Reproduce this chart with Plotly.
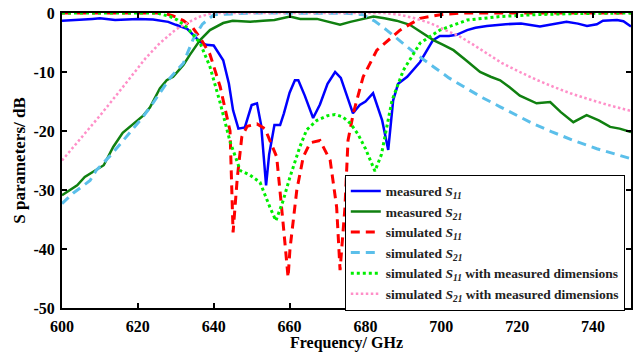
import plotly.graph_objects as go

# ---- data ----
f_meas_s11 = [600, 604, 608, 610, 614, 617, 620, 624, 628, 630, 633, 636.4, 638, 640, 641.6, 642.5, 644, 645.1,
              646.5, 648.2, 650, 651.4, 652.5, 653.3, 653.8, 654.6, 656, 657.5, 658.5, 660, 661.4, 662.3, 664,
              666.2, 668, 670, 672, 673.5, 675, 676.7, 678.5, 680, 682, 684.4, 686, 687.3, 688.6, 691, 694.4,
              697.8, 699.6, 702, 704, 706.8, 709, 712, 717, 721, 726, 730, 733, 736, 738.4, 741, 742.6, 746.3,
              748, 750]
meas_s11 = [-1.3, -1.2, -1.0, -0.9, -1.2, -1.1, -1.0, -1.1, -1.5, -2.0, -2.7, -4.9, -5.4, -5.5, -7.0, -8.0, -12.0,
            -16.5, -19.6, -19.4, -15.6, -15.3, -19.0, -25.0, -29.2, -24.0, -19.0, -19.0, -17.0, -13.5, -11.4,
            -11.4, -14.0, -17.8, -15.5, -12.0, -10.0, -11.0, -14.0, -17.0, -15.6, -15.0, -13.6, -18.2, -23.2,
            -14.8, -12.0, -10.8, -8.3, -4.6, -3.9, -3.9, -3.7, -2.9, -2.5, -2.2, -1.9, -1.8, -2.3, -1.8, -1.5,
            -1.8, -2.2, -1.9, -1.3, -1.2, -1.4, -2.3]

f_meas_s21 = [600, 604, 606, 607.4, 611, 613.5, 616, 621.4, 623.2, 625.8, 627.6, 629.3, 632, 633.7, 636.4, 639,
              642.5, 645, 649.6, 653, 656, 660.1, 662.8, 667.2, 670, 673.3, 676, 679.4, 682.1, 685, 688.2, 691.7,
              694, 697.9, 700.5, 703.2, 706.5, 710.2, 713, 715.5, 718, 720.7, 725.1, 728.7, 731.5, 734.8, 738.3,
              741.5, 744.5, 747, 750]
meas_s21 = [-30.9, -29.2, -27.8, -27.2, -25.8, -22.7, -20.3, -17.4, -16.0, -12.8, -11.4, -10.8, -8.8, -7.1, -4.6,
            -2.9, -1.7, -1.3, -1.5, -1.3, -1.2, -0.6, -1.0, -1.0, -1.4, -2.0, -1.5, -1.0, -0.6, -0.9, -1.3, -2.0,
            -3.0, -4.6, -5.4, -6.3, -8.0, -10.0, -10.8, -11.4, -12.6, -14.0, -15.3, -15.1, -16.8, -18.5, -17.3,
            -18.2, -19.3, -19.6, -20.2]

f_sim_s11 = [600, 610, 620, 626.7, 629.3, 632, 634.5, 636.5, 639, 641.7, 644.3, 645.1, 646.2, 647.4, 648.8, 650.4,
             651.4, 653.5, 655.6, 656.6, 658.3, 659.6, 660.1, 661.9, 663.6, 665.4, 668, 670.7, 672.4, 673.3,
             674.6, 675.4, 676.8, 679.4, 683, 689.1, 694.4, 699.7, 705, 720, 750]
sim_s11 = [0.0, 0.0, 0.0, 0.0, -0.5, -1.3, -2.5, -4.3, -7.0, -12.5, -20.0, -37.2, -28.0, -21.0, -19.2, -18.9,
           -18.8, -19.6, -23.0, -24.4, -35.7, -44.8, -40.0, -30.0, -24.4, -22.0, -21.6, -25.0, -32.9, -43.6,
           -32.9, -21.6, -17.0, -10.8, -6.3, -2.9, -0.9, -0.3, 0.0, 0.0, 0.0]

f_sim_s21 = [600, 603, 607.4, 609, 613, 617, 620.6, 623, 625.8, 628.5, 632, 634.6, 637, 640, 650, 665, 675, 679.4,
             682.5, 685.6, 688, 690.9, 694, 697.9, 702, 706.7, 711, 715.5, 720, 724.3, 729, 734.8, 741, 748, 750]
sim_s21 = [-32.3, -30.5, -28.4, -26.7, -24.0, -21.0, -18.2, -16.2, -13.6, -11.0, -8.5, -4.4, -1.9, -0.3, 0.0, 0.0,
           -0.05, -0.3, -1.4, -2.9, -4.2, -5.7, -7.3, -9.1, -11.0, -12.8, -14.4, -15.9, -17.4, -18.8, -20.1,
           -21.6, -23.0, -24.4, -24.7]

f_sim_s11_md = [600, 615, 625, 628.5, 630.5, 633, 636.4, 639, 641.6, 644.3, 647, 649.6, 652.2, 654.8, 656.4, 658.3,
                660.1, 662.7, 664.5, 667.2, 670, 672, 674, 676, 678, 680, 682.5, 684.2, 685.5, 687, 690, 694.4,
                699.6, 706.8, 715.5, 724, 735, 750]
sim_s11_md = [0.0, 0.0, 0.0, -0.6, -1.2, -2.5, -5.1, -9.1, -15.0, -21.8, -26.7, -27.5, -28.7, -32.9, -35.2, -31.8,
              -27.8, -22.7, -19.8, -18.2, -17.4, -17.2, -17.6, -18.7, -20.5, -23.0, -26.8, -24.0, -20.0, -14.8,
              -9.7, -5.1, -2.9, -1.2, -0.6, -0.3, -0.1, 0.0]

f_sim_s21_md = [600, 605, 610, 615, 618.8, 622, 625.8, 630, 633, 636, 638, 640, 660, 685, 689.1, 693, 697, 701,
                704.9, 708.5, 712, 716, 720.7, 725, 729.5, 734, 738.3, 744, 750]
sim_s21_md = [-25.0, -21.2, -17.4, -13.4, -10.2, -7.7, -5.1, -2.8, -1.7, -0.7, -0.3, 0.0, 0.0, 0.0, -0.3, -0.9,
              -1.7, -2.8, -4.0, -5.4, -6.9, -8.5, -10.0, -11.3, -12.5, -13.6, -14.5, -15.6, -16.6]

x_ticks = [600, 620, 640, 660, 680, 700, 720, 740]
y_ticks = [0, -10, -20, -30, -40, -50]

# ---- figure ----
FONT = "Liberation Serif"
S11 = "<i>S</i><sub><i>11</i></sub>"
S21 = "<i>S</i><sub><i>21</i></sub>"

fig = go.Figure()
fig.add_trace(go.Scatter(x=f_meas_s11, y=meas_s11, mode="lines", name="measured " + S11,
                         line=dict(color="#0000ff", width=2.5)))
fig.add_trace(go.Scatter(x=f_meas_s21, y=meas_s21, mode="lines", name="measured " + S21,
                         line=dict(color="#108010", width=2.5)))
fig.add_trace(go.Scatter(x=f_sim_s11, y=sim_s11, mode="lines", name="simulated " + S11,
                         line=dict(color="#ff0000", width=3, dash="9px,6px")))
fig.add_trace(go.Scatter(x=f_sim_s21, y=sim_s21, mode="lines", name="simulated " + S21,
                         line=dict(color="#5bbfea", width=3, dash="9px,6px")))
fig.add_trace(go.Scatter(x=f_sim_s11_md, y=sim_s11_md, mode="lines",
                         name="simulated " + S11 + " with measured dimensions",
                         line=dict(color="#00ee00", width=3, dash="3px,3px")))
fig.add_trace(go.Scatter(x=f_sim_s21_md, y=sim_s21_md, mode="lines",
                         name="simulated " + S21 + " with measured dimensions",
                         line=dict(color="#ff8fc8", width=2.5, dash="2.5px,2.5px")))

axis_common = dict(showline=True, linecolor="black", linewidth=2, mirror="ticks", ticks="inside",
                   ticklen=5, tickwidth=1.5, tickcolor="black", showgrid=False, zeroline=False,
                   automargin=False,
                   tickfont=dict(family=FONT, size=16, color="black", weight="bold"))

fig.update_xaxes(range=[600, 750], tickvals=x_ticks, ticktext=[str(v) for v in x_ticks],
                 title=dict(text="Frequency/ GHz", font=dict(family=FONT, size=16, color="black", weight="bold"),
                            standoff=4),
                 ticklabelstandoff=3, **axis_common)
fig.update_yaxes(range=[-50, 0], tickvals=y_ticks, ticktext=[str(v) for v in y_ticks],
                 title=dict(text="S parameters/ dB", font=dict(family=FONT, size=17, color="black", weight="bold"),
                            standoff=4),
                 ticklabelstandoff=2, **axis_common)

fig.update_layout(
    width=644, height=352,
    margin=dict(l=62, r=13, t=13, b=44, pad=0, autoexpand=False),
    paper_bgcolor="white", plot_bgcolor="white",
    font=dict(family=FONT, color="black"),
    showlegend=True,
    legend=dict(x=0.497, y=0.452, xanchor="left", yanchor="top",
                bgcolor="white", bordercolor="black", borderwidth=1,
                font=dict(family=FONT, size=13.5, color="#222222", weight="bold"),
                itemwidth=30, tracegroupgap=0),
)

fig.write_html("out.html", config={"displayModeBar": False},
               post_script="document.body.style.margin='0';")
